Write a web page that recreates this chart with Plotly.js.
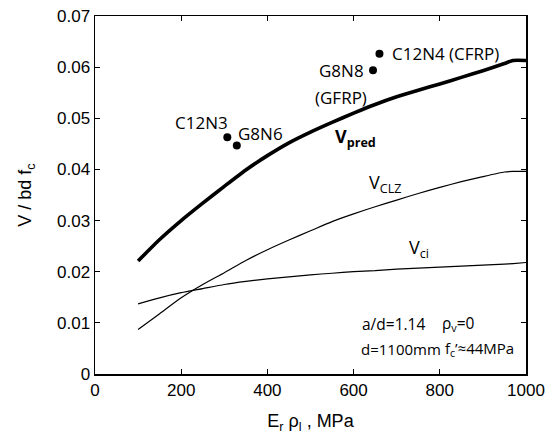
<!DOCTYPE html>
<html><head><meta charset="utf-8">
<script src="https://cdn.plot.ly/plotly-3.0.1.min.js"></script>
<style>html,body{margin:0;padding:0;background:#fff;}</style>
</head><body>
<div id="chart" style="width:553px;height:434px;"></div>
<script>
const xCurve = [100,150,200,250,300,350,400,450,500,550,600,650,700,750,800,850,900,950,970,1000];
const vPred  = [0.0221,0.0263,0.0300,0.0334,0.0367,0.0399,0.0427,0.0452,0.0473,0.0492,0.0510,0.0527,0.0542,0.0555,0.0567,0.0580,0.0593,0.0607,0.0613,0.0613];
const vCLZ   = [0.0087,0.0118,0.0149,0.0175,0.0198,0.0222,0.0243,0.0262,0.0280,0.0298,0.0313,0.0327,0.0340,0.0353,0.0365,0.0376,0.0386,0.0395,0.0396,0.0396];
const vCi    = [0.0137,0.0149,0.0159,0.0167,0.0175,0.0181,0.0186,0.0190,0.0194,0.0197,0.0200,0.0202,0.0205,0.0207,0.0209,0.0211,0.0213,0.0215,0.0216,0.0218];
const testNames = ["C12N3","G8N6","G8N8","C12N4"];
const testX = [307,329,645,660];
const testY = [0.0463,0.0447,0.0594,0.0626];

const lab = "Open Sans";
const traces = [
  {x:xCurve,y:vPred,mode:"lines",line:{color:"#000",width:3.6,shape:"spline",smoothing:0.6},hoverinfo:"skip"},
  {x:xCurve,y:vCLZ,mode:"lines",line:{color:"#000",width:1.2,shape:"spline",smoothing:0.6},hoverinfo:"skip"},
  {x:xCurve,y:vCi,mode:"lines",line:{color:"#000",width:1.2,shape:"spline",smoothing:0.6},hoverinfo:"skip"},
  {x:testX,y:testY,mode:"markers",marker:{color:"#000",size:8},text:testNames,hoverinfo:"text"}
];
function ann(x,y,text,xa,size){return {x:x,y:y,xref:"x",yref:"y",text:text,showarrow:false,xanchor:xa||"center",yanchor:"middle",font:{family:lab,size:size||17,color:"#000"}};}
const layout = {
  width:553,height:434,showlegend:false,
  paper_bgcolor:"#fff",plot_bgcolor:"#fff",
  margin:{l:95,r:27,t:16,b:60},
  font:{family:"Liberation Sans, Arial, sans-serif",size:17,color:"#000"},
  xaxis:{range:[0,1000],tickvals:[0,200,400,600,800,1000],ticks:"inside",ticklen:5,tickcolor:"#000",
    showline:true,linecolor:"#000",linewidth:1.5,mirror:"ticks",showgrid:false,zeroline:false,
    title:{text:"E<sub>r</sub> ρ<sub>l</sub> , MPa",font:{size:18},standoff:17}},
  yaxis:{range:[0,0.07],tickvals:[0,0.01,0.02,0.03,0.04,0.05,0.06,0.07],ticktext:["0","0.01","0.02","0.03","0.04","0.05","0.06","0.07"],
    ticks:"inside",ticklen:5,tickcolor:"#000",
    showline:true,linecolor:"#000",linewidth:1.5,mirror:"ticks",showgrid:false,zeroline:false,
    title:{text:"V / bd f<sub>c</sub>",font:{size:18},standoff:20}},
  annotations:[
    ann(248,0.0491,"C12N3"),
    ann(384,0.0471,"G8N6"),
    ann(572,0.0594,"G8N8"),
    ann(571,0.0541,"(GFRP)"),
    ann(813,0.0626,"C12N4 (CFRP)"),
    ann(553,0.0462,"<b>V<sub>pred</sub></b>","left",18),
    ann(632,0.0372,"V<sub>CLZ</sub>","left",18),
    ann(725,0.0245,"V<sub>ci</sub>","left",18),
    ann(615,0.0098,"a/d=1.14","left",15.5),
    ann(801,0.0098,"ρ<sub>v</sub>=0","left",15.5),
    ann(613,0.0049,"d=1100mm","left",15),
    ann(808,0.0049,"f<sub>c</sub>’≈44MPa","left",15)
  ]
};
Plotly.newPlot("chart",traces,layout,{displayModeBar:false,staticPlot:true});
</script>
</body></html>
